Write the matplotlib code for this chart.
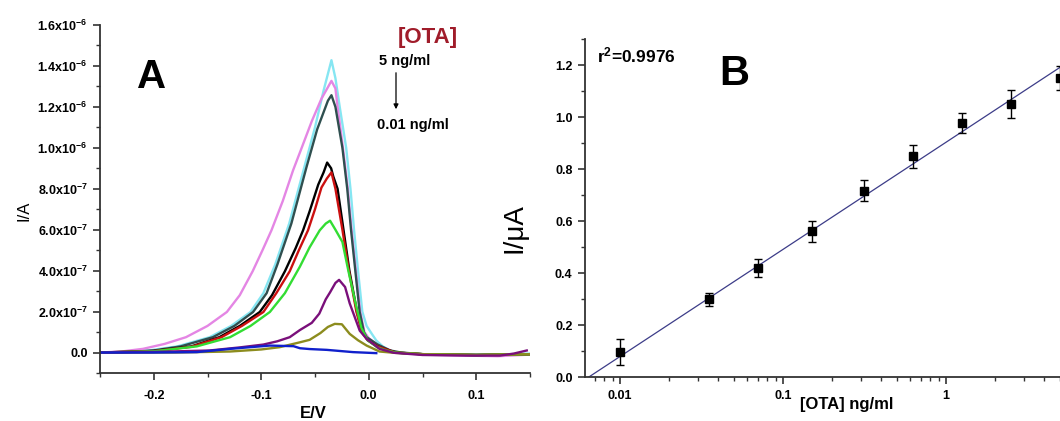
import numpy as np
import matplotlib
matplotlib.use("Agg")
import matplotlib.pyplot as plt
from matplotlib.ticker import FixedLocator, MultipleLocator, LogLocator, NullFormatter

plt.rcParams['font.family'] = ['Liberation Sans', 'DejaVu Sans']
plt.rcParams['font.weight'] = 'bold'
plt.rcParams['mathtext.fontset'] = 'custom'
plt.rcParams['mathtext.rm'] = 'Liberation Sans:bold'
plt.rcParams['mathtext.it'] = 'Liberation Sans:bold'
plt.rcParams['mathtext.bf'] = 'Liberation Sans:bold'

# ---------------- Panel A data (E in V, I in units of 1e-7 A) ----------------
I_UNIT = 1e-7

cyan_E = [-0.25, -0.24, -0.205, -0.178, -0.148, -0.128, -0.11, -0.098, -0.087, -0.074, -0.06, -0.05, -0.042, -0.0347,
          -0.031, -0.027, -0.021, -0.017, -0.0137, -0.010, -0.006, -0.002, 0.003, 0.007, 0.013, 0.0195, 0.029,
          0.05, 0.09, 0.12, 0.15]
cyan_I = [0, 0.0, 0.1, 0.3, 0.75, 1.3, 1.98, 2.9, 4.3, 6.3, 9.04, 11.0, 12.8, 14.28,
          13.4, 12.0, 10.0, 8.0, 6.0, 4.0, 2.0, 1.3, 0.9, 0.59, 0.3, 0.1, -0.03,
          -0.08, -0.1, -0.1, -0.05]

pink_E = [-0.25, -0.23, -0.21, -0.19, -0.17, -0.15, -0.132, -0.12, -0.108, -0.099, -0.0905, -0.08, -0.0704, -0.0626,
          -0.053, -0.044, -0.0347,
          -0.031, -0.029, -0.024, -0.0195, -0.016, -0.012, -0.008, -0.004, 0.0, 0.01, 0.025, 0.05, 0.09, 0.12, 0.15]
pink_I = [0, 0.05, 0.18, 0.42, 0.75, 1.3, 1.98, 2.8, 3.97, 4.98, 5.97, 7.4, 8.9, 9.97,
          11.3, 12.4, 13.27,
          12.9, 12.0, 10.0, 8.0, 6.0, 4.0, 2.0, 1.0, 0.7, 0.3, 0.0, -0.1, -0.15, -0.18, -0.1]

slate_E = [-0.25, -0.23, -0.20, -0.175, -0.145, -0.125, -0.1076, -0.095, -0.085, -0.072, -0.058, -0.048, -0.038, -0.0347,
           -0.031, -0.0245, -0.02, -0.0165, -0.0125, -0.0085, -0.0045, -0.002, 0.008, 0.02, 0.03, 0.05, 0.10, 0.15]
slate_I = [0, 0.0, 0.1, 0.3, 0.75, 1.3, 1.98, 2.9, 4.3, 6.3, 9.04, 10.9, 12.3, 12.57,
           12.0, 10.0, 8.0, 6.0, 4.0, 2.0, 1.0, 0.75, 0.4, 0.1, 0.0, -0.08, -0.12, -0.08]

black_E = [-0.25, -0.20, -0.165, -0.139, -0.12, -0.1014, -0.09, -0.078, -0.068, -0.0611, -0.055, -0.047, -0.042, -0.0387,
           -0.035, -0.033, -0.029, -0.0235, -0.018, -0.011, -0.006, -0.001, 0.008, 0.025, 0.05, 0.10, 0.15]
black_I = [0, 0.08, 0.3, 0.75, 1.3, 1.98, 2.8, 3.97, 5.1, 5.97, 6.9, 8.2, 8.8, 9.28,
           9.0, 8.6, 8.0, 6.0, 4.0, 2.0, 1.0, 0.6, 0.3, 0.0, -0.08, -0.12, -0.08]

red_E = [-0.25, -0.20, -0.165, -0.137, -0.118, -0.098, -0.086, -0.0735, -0.065, -0.0565, -0.05, -0.044, -0.039, -0.0347,
         -0.031, -0.0245, -0.0185, -0.0115, -0.0065, -0.001, 0.008, 0.025, 0.05, 0.10, 0.15]
red_I = [0, 0.07, 0.28, 0.75, 1.3, 1.98, 2.9, 3.97, 5.0, 5.97, 7.0, 8.06, 8.5, 8.8,
         8.0, 6.0, 4.0, 2.0, 1.0, 0.6, 0.3, 0.0, -0.08, -0.12, -0.08]

green_E = [-0.25, -0.20, -0.16, -0.129, -0.11, -0.092, -0.078, -0.064, -0.055, -0.0456, -0.04, -0.036,
           -0.031, -0.0245, -0.019, -0.0114, -0.0068, -0.001, 0.008, 0.0165, 0.025, 0.05, 0.10, 0.15]
green_I = [0, 0.06, 0.3, 0.75, 1.3, 1.98, 2.9, 4.2, 5.14, 5.97, 6.3, 6.44,
           6.0, 5.4, 4.0, 2.2, 1.2, 0.6, 0.25, 0.1, 0.0, -0.08, -0.12, -0.08]

olive_E = [-0.25, -0.18, -0.129, -0.10, -0.083, -0.064, -0.055, -0.045, -0.038, -0.0316, -0.025, -0.0177, -0.010,
           -0.002, 0.010, 0.025, 0.05, 0.10, 0.15]
olive_I = [0, 0.0, 0.05, 0.15, 0.26, 0.5, 0.62, 0.95, 1.25, 1.4, 1.38, 0.91, 0.6,
           0.34, 0.05, -0.02, -0.08, -0.12, -0.08]

purple_E = [-0.25, -0.20, -0.148, -0.12, -0.098, -0.085, -0.0735, -0.064, -0.053, -0.046, -0.04, -0.036, -0.031, -0.0276,
            -0.022, -0.0177, -0.0084, -0.002, 0.010, 0.023, 0.05, 0.09, 0.122, 0.135, 0.147]
purple_I = [0, 0.03, 0.1, 0.25, 0.39, 0.55, 0.75, 1.1, 1.45, 1.9, 2.6, 2.94, 3.4, 3.55,
            3.2, 2.4, 1.07, 0.67, 0.18, -0.01, -0.12, -0.15, -0.15, -0.05, 0.1]

blue_E = [-0.25, -0.20, -0.16, -0.129, -0.092, -0.07, -0.064, -0.055, -0.039, -0.0146, 0.007]
blue_I = [0, 0.0, 0.02, 0.18, 0.34, 0.31, 0.21, 0.17, 0.13, 0.02, -0.03]

a_ytick_values = [0.0, 2e-7, 4e-7, 6e-7, 8e-7, 1.0e-6, 1.2e-6, 1.4e-6, 1.6e-6]
a_ytick_labels = ['0.0', '2.0x10$^{-7}$', '4.0x10$^{-7}$', '6.0x10$^{-7}$', '8.0x10$^{-7}$',
                  '1.0x10$^{-6}$', '1.2x10$^{-6}$', '1.4x10$^{-6}$', '1.6x10$^{-6}$']
a_xtick_values = [-0.2, -0.1, 0.0, 0.1]
a_xtick_labels = ['-0.2', '-0.1', '0.0', '0.1']

# ---------------- Panel B data ----------------
ota_conc = [0.01, 0.035, 0.07, 0.15, 0.3125, 0.625, 1.25, 2.5, 5.0]
peak_current = [0.096, 0.30, 0.42, 0.561, 0.718, 0.85, 0.978, 1.051, 1.152]
current_err = [0.05, 0.025, 0.036, 0.042, 0.04, 0.045, 0.0385, 0.0545, 0.046]
fit_intercept = 0.904
fit_slope = 0.412
b_ytick_values = [0.0, 0.2, 0.4, 0.6, 0.8, 1.0, 1.2]
b_ytick_labels = ['0.0', '0.2', '0.4', '0.6', '0.8', '1.0', '1.2']
b_xtick_values = [0.01, 0.1, 1, 10]
b_xtick_labels = ['0.01', '0.1', '1', '']

W, H = 1060, 421
fig = plt.figure(figsize=(W / 100, H / 100), dpi=100)

def fx(px):
    return px / W

def fy(py):
    return 1 - py / H

# ---------------- Panel A ----------------
axA = fig.add_axes([fx(100), fy(373), fx(530) - fx(100), fy(25) - fy(373)])
curves = [
    (cyan_E, cyan_I, '#86e6f2'),
    (pink_E, pink_I, '#e486e4'),
    (slate_E, slate_I, '#2f4f4f'),
    (black_E, black_I, '#000000'),
    (red_E, red_I, '#cc1010'),
    (green_E, green_I, '#33dd33'),
    (olive_E, olive_I, '#8c8c1e'),
    (purple_E, purple_I, '#7a0f7a'),
    (blue_E, blue_I, '#1020cc'),
]
for e, i, c in curves:
    axA.plot(e, np.array(i) * I_UNIT, color=c, lw=1.7)

axA.set_xlim(-0.25, 0.15)
axA.set_ylim(-1.0e-7, 1.6e-6)
axA.xaxis.set_major_locator(FixedLocator(a_xtick_values))
axA.set_xticklabels(a_xtick_labels)
axA.xaxis.set_minor_locator(MultipleLocator(0.05))
axA.yaxis.set_major_locator(FixedLocator(a_ytick_values))
axA.set_yticklabels(a_ytick_labels)
axA.yaxis.set_minor_locator(MultipleLocator(1e-7))
axA.spines['top'].set_visible(False)
axA.spines['right'].set_visible(False)

# ---------------- Panel B ----------------
axB = fig.add_axes([fx(585), fy(377.3), fx(1109) - fx(585), fy(39.3) - fy(377.3)])
axB.set_xscale('log')
axB.set_xlim(10 ** (-2.215), 10)
axB.set_ylim(0, 1.3)
x0 = 10 ** (-fit_intercept / fit_slope)
xfit = np.logspace(np.log10(x0), 1, 200)
axB.plot(xfit, fit_intercept + fit_slope * np.log10(xfit), color='#3c3c88', lw=0.9, zorder=2)
axB.errorbar(ota_conc, peak_current, yerr=current_err, fmt='s', color='black', ms=5.5,
             ecolor='black', elinewidth=1.0, capsize=3.0, capthick=1.0, zorder=3)
axB.xaxis.set_major_locator(FixedLocator(b_xtick_values))
axB.set_xticklabels(b_xtick_labels)
axB.xaxis.set_minor_locator(LogLocator(base=10, subs=np.arange(2, 10)))
axB.xaxis.set_minor_formatter(NullFormatter())
axB.yaxis.set_major_locator(FixedLocator(b_ytick_values))
axB.set_yticklabels(b_ytick_labels)
axB.yaxis.set_minor_locator(MultipleLocator(0.1))
axB.spines['top'].set_visible(False)
axB.spines['right'].set_visible(False)

for ax in [axA, axB]:
    for s in ['left', 'bottom']:
        ax.spines[s].set_linewidth(1.3)
        ax.spines[s].set_color('#333333')
    ax.tick_params(which='major', direction='out', length=5, width=1.2, color='#333333',
                   labelsize=9)
    ax.tick_params(which='minor', direction='out', length=3, width=1.0, color='#333333')
    for lab in ax.get_xticklabels() + ax.get_yticklabels():
        lab.set_fontweight('bold')
axA.tick_params(axis='x', which='major', pad=7)
axA.tick_params(axis='y', which='major', pad=4)
axB.tick_params(axis='x', which='major', pad=4)
axB.tick_params(axis='y', which='major', pad=4)

# ---------------- Texts ----------------
fig.text(fx(152), fy(77), 'A', fontsize=29, fontweight='bold', ha='center', va='center')
fig.text(fx(428), fy(37), '[OTA]', fontsize=16, fontweight='bold', color='#a01c2a',
         ha='center', va='center')
fig.text(fx(405), fy(61), '5 ng/ml', fontsize=10.5, fontweight='bold', ha='center', va='center')
fig.text(fx(413), fy(124.5), '0.01 ng/ml', fontsize=10.5, fontweight='bold', ha='center', va='center')
fig.add_artist(matplotlib.patches.FancyArrowPatch((fx(396), fy(70)), (fx(396), fy(112)),
                                                  transform=fig.transFigure, arrowstyle='-|>',
                                                  mutation_scale=7, color='black', lw=0.9))
fig.text(fx(24), fy(211), 'I/A', fontsize=12, fontweight='normal', rotation=90, ha='center', va='center')
fig.text(fx(313), fy(420.5), 'E/V', fontsize=12, fontweight='bold', ha='center', va='bottom')

fig.text(fx(597), fy(55), 'r$^2$=0.9976', fontsize=12.5, fontweight='bold', ha='left', va='center')
fig.text(fx(734), fy(74), 'B', fontsize=30, fontweight='bold', ha='center', va='center')
fig.text(fx(515), fy(228), 'I/\u03bcA', fontsize=20, fontweight='normal', rotation=90,
         ha='center', va='center')
fig.text(fx(847), fy(405), '[OTA] ng/ml', fontsize=12, fontweight='bold', ha='center', va='center')

fig.savefig('out.png', dpi=100)
